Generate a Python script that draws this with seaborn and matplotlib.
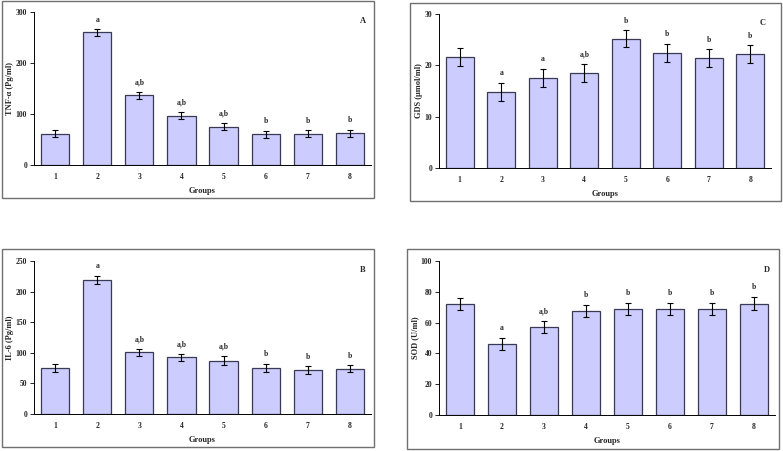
import matplotlib
matplotlib.use("Agg")
import matplotlib.pyplot as plt
from matplotlib.patches import Rectangle
import seaborn as sns
import pandas as pd
import numpy as np

groups = ["1", "2", "3", "4", "5", "6", "7", "8"]

tnf_mean = [61, 260, 137, 97, 75, 60, 61, 62]
tnf_err = [7, 6.5, 7, 7, 7, 7, 7, 7]
tnf_sig = ["", "a", "a,b", "a,b", "a,b", "b", "b", "b"]

gds_mean = [21.6, 14.8, 17.5, 18.5, 25.2, 22.4, 21.4, 22.2]
gds_err = [1.7, 1.8, 1.8, 1.7, 1.65, 1.75, 1.7, 1.75]
gds_sig = ["", "a", "a", "a,b", "b", "b", "b", "b"]

il6_mean = [75, 219, 100.5, 92.4, 87, 75.5, 72, 74]
il6_err = [6, 6.5, 6, 6, 7, 6.5, 6, 5.5]
il6_sig = ["", "a", "a,b", "a,b", "a,b", "b", "b", "b"]

sod_mean = [72, 46, 57, 67.7, 68.8, 68.8, 68.8, 72.3]
sod_err = [4, 4, 4, 4, 4, 4, 4, 4.3]
sod_sig = ["", "a", "a,b", "b", "b", "b", "b", "b"]

sns.set_style("white")
plt.rcParams["font.family"] = ["Liberation Serif", "DejaVu Serif"]
plt.rcParams["font.weight"] = "bold"

W, H = 783, 451
fig = plt.figure(figsize=(W / 100, H / 100), dpi=100)

def fr(l, r, t, b):
    return [l / W, (H - b) / H, (r - l) / W, (b - t) / H]

panels = [
    dict(rect=fr(34, 371, 12, 165), box=(2, 374, 1, 198), mean=tnf_mean, err=tnf_err, sig=tnf_sig,
         ylabel="TNF-α (Pg/ml)", ylim=300, yticks=[0, 100, 200, 300], letter="A"),
    dict(rect=fr(439, 771, 14, 168), box=(410, 781, 3, 201), mean=gds_mean, err=gds_err, sig=gds_sig,
         ylabel="GDS (μmol/ml)", ylim=30, yticks=[0, 10, 20, 30], letter="C"),
    dict(rect=fr(34, 371, 261, 414), box=(2, 374, 249, 447), mean=il6_mean, err=il6_err, sig=il6_sig,
         ylabel="IL-6 (Pg/ml)", ylim=250, yticks=[0, 50, 100, 150, 200, 250], letter="B"),
    dict(rect=fr(439, 775, 261, 415), box=(407, 779, 249, 449), mean=sod_mean, err=sod_err, sig=sod_sig,
         ylabel="SOD (U/ml)", ylim=100, yticks=[0, 20, 40, 60, 80, 100], letter="D"),
]

for p in panels:
    l, r, t, b = p["box"]
    fig.patches.append(Rectangle((l / W, (H - b) / H), (r - l) / W, (b - t) / H,
                                 transform=fig.transFigure, fill=False,
                                 edgecolor="#707070", linewidth=1.0))
    ax = fig.add_axes(p["rect"])
    df = pd.DataFrame({"Group": groups, "Value": p["mean"]})
    sns.barplot(data=df, x="Group", y="Value", ax=ax, color="#CCCCFF",
                saturation=1, width=0.67, edgecolor="#3a3a55", linewidth=0.9,
                errorbar=None)
    x = np.arange(len(groups))
    ax.errorbar(x, p["mean"], yerr=p["err"], fmt="none", ecolor="black",
                elinewidth=0.8, capsize=2.2, capthick=0.8)
    for xi, m, e, s in zip(x, p["mean"], p["err"], p["sig"]):
        if s:
            ax.annotate(s, (xi, m + e), xytext=(0, 4), textcoords="offset points",
                        ha="center", va="bottom", fontsize=5.5, fontweight="bold")
    ax.set_xlim(-0.5, 7.5)
    ax.set_ylim(0, p["ylim"])
    ax.set_yticks(p["yticks"])
    ax.set_yticklabels([str(v) for v in p["yticks"]], fontsize=5.5, fontweight="bold")
    ax.set_xticks(x)
    ax.set_xticklabels(groups, fontsize=5.5, fontweight="bold")
    ax.set_xticks(np.arange(-0.5, 8.0, 1.0), minor=True)
    ax.tick_params(axis="x", which="major", length=0, pad=6)
    ax.tick_params(axis="x", which="minor", length=3, width=0.6, direction="inout", color="black")
    ax.tick_params(axis="y", which="major", length=3, width=0.6, direction="out", color="black", pad=2, left=True)
    ax.set_xlabel("Groups", fontsize=6, fontweight="bold", labelpad=4)
    ax.set_ylabel(p["ylabel"], fontsize=6, fontweight="bold", labelpad=1)
    for side in ["top", "right"]:
        ax.spines[side].set_visible(False)
    for side in ["left", "bottom"]:
        ax.spines[side].set_color("black")
        ax.spines[side].set_linewidth(0.7)
    ax.text(0.985, 0.97, p["letter"], transform=ax.transAxes, ha="right", va="top",
            fontsize=6, fontweight="bold")

fig.savefig("out.png", dpi=100)
